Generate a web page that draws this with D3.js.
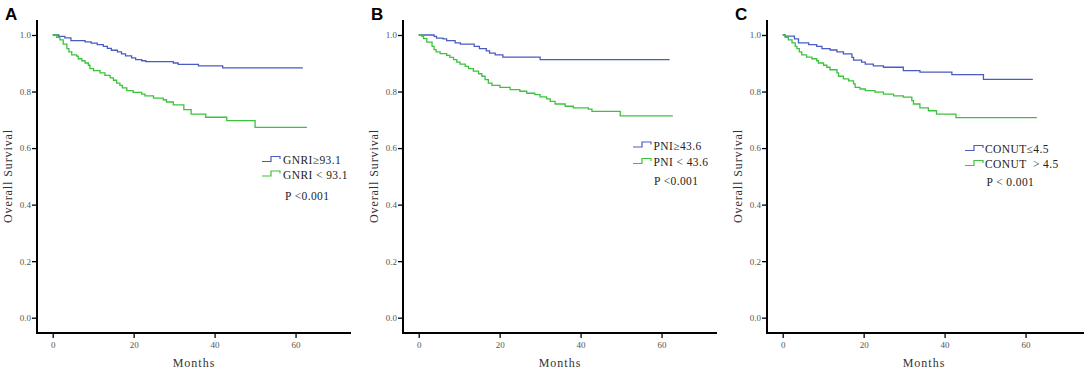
<!DOCTYPE html>
<html><head><meta charset="utf-8">
<script src="https://cdn.jsdelivr.net/npm/d3@7/dist/d3.min.js"></script>
<style>body{margin:0;background:#fff}svg{display:block}</style>
</head><body>
<svg id="chart" width="1084" height="370"></svg>
<script>
// ---- data: [months, survival] change points of each Kaplan–Meier step curve ----
const panelLetters = ["A", "B", "C"];
const yTicks = [0.0, 0.2, 0.4, 0.6, 0.8, 1.0];
const xTicks = [0, 20, 40, 60];
const xTitle = "Months";
const yTitle = "Overall Survival";

const gnriHigh = [[0,1],[1.5,0.995],[3,0.99],[4.5,0.98],[8,0.976],[9.5,0.971],[11,0.966],[12.5,0.96],[13.5,0.953],[14.5,0.946],[16,0.94],[17,0.933],[18,0.926],[19.5,0.919],[20.5,0.913],[22,0.909],[23,0.906],[29.8,0.901],[31,0.896],[36,0.891],[42,0.884],[61.8,0.884]];
const gnriLow = [[0,1],[1,0.992],[1.8,0.983],[2.6,0.968],[3.5,0.952],[4,0.94],[4.7,0.93],[5.9,0.925],[6.3,0.916],[7.2,0.909],[8,0.901],[8.8,0.893],[9.2,0.881],[10.1,0.874],[11.7,0.866],[12.9,0.857],[14.2,0.848],[15,0.84],[15.8,0.83],[16.6,0.822],[17.2,0.813],[18.3,0.803],[19.9,0.797],[22,0.791],[22.8,0.785],[24.9,0.777],[27.3,0.771],[28.1,0.763],[29.8,0.753],[32.4,0.736],[34.2,0.72],[37.8,0.709],[43,0.697],[50,0.673],[62.8,0.673]];

const pniHigh = [[0,1],[3.8,0.995],[4.4,0.989],[6,0.986],[6.9,0.98],[9,0.972],[10.3,0.968],[13.7,0.96],[15,0.952],[16.7,0.944],[17.5,0.936],[18.9,0.93],[20.8,0.922],[30,0.913],[62,0.913]];
const pniLow = [[0,1],[0.8,0.995],[1.2,0.987],[2,0.975],[3.3,0.96],[3.8,0.948],[4.3,0.94],[5.3,0.934],[6.9,0.928],[7.7,0.921],[8.6,0.913],[9.4,0.904],[10.2,0.897],[11.5,0.889],[12.3,0.881],[13.5,0.872],[14.8,0.863],[15.6,0.854],[16.4,0.842],[17.2,0.83],[18.1,0.822],[20.1,0.815],[22.6,0.807],[25,0.801],[26.7,0.794],[28.7,0.789],[30,0.781],[31.6,0.774],[32.5,0.765],[33.7,0.756],[36.2,0.748],[38.2,0.742],[41.9,0.738],[42.8,0.73],[49.8,0.714],[62.8,0.714]];

const conutLow = [[0,1],[0.6,0.996],[2.9,0.986],[3.9,0.972],[6.4,0.966],[8.4,0.96],[9.7,0.952],[11.7,0.947],[13.4,0.94],[15,0.933],[17.1,0.921],[17.5,0.911],[19.5,0.904],[20.4,0.897],[22.4,0.891],[24.9,0.886],[29.8,0.874],[33.9,0.869],[41.8,0.86],[49.6,0.843],[61.8,0.843]];
const conutHigh = [[0,1],[0.6,0.992],[1.4,0.983],[2.3,0.972],[3.1,0.96],[3.5,0.952],[4.1,0.94],[4.7,0.93],[5.9,0.922],[7.2,0.916],[8.4,0.909],[8.8,0.901],[10.1,0.893],[10.9,0.886],[11.7,0.877],[13.4,0.866],[13.8,0.854],[15,0.845],[16.3,0.838],[17.5,0.827],[17.9,0.815],[19.1,0.809],[20.4,0.803],[22.8,0.798],[24.9,0.791],[27.4,0.785],[29.8,0.78],[31.9,0.768],[32.3,0.756],[33.9,0.742],[36,0.732],[38,0.72],[42.8,0.708],[62.8,0.708]];

const legendLabels = [["GNRI\u226593.1", "GNRI < 93.1"], ["PNI\u226543.6", "PNI < 43.6"], ["CONUT\u22644.5", "CONUT  > 4.5"]];
const pLabels = ["P <0.001", "P <0.001", "P < 0.001"];

// ---- layout / style ----
const blue = "#4a5cbf", green = "#3cc23c";
const panels = [
  {off: 0,   series: [gnriHigh, gnriLow],  leg: {sx: 262, tx: 283, y1: 160, y2: 174.5, py: 200, px: 285}},
  {off: 366, series: [pniHigh, pniLow],    leg: {sx: 267, tx: 287.5, y1: 145.5, y2: 162, py: 185, px: 288}},
  {off: 730, series: [conutLow, conutHigh],leg: {sx: 235, tx: 255, y1: 149, y2: 164, py: 186, px: 256.5}}
];
const serif = "'Liberation Serif','Times New Roman',serif";
const svg = d3.select("#chart");

panels.forEach((p, i) => {
  const g = svg.append("g").attr("transform", `translate(${p.off},0)`);
  const x = d3.scaleLinear().domain([-3.88, 73.7]).range([37, 351]);
  const y = d3.scaleLinear().domain([0, 1]).range([317.7, 35]);
  const yTop = 20, xAxisY = 333;

  // panel letter
  g.append("text").attr("x", 5).attr("y", 20).text(panelLetters[i])
    .attr("font-family", "Arial, 'Liberation Sans', sans-serif").attr("font-weight", "bold").attr("font-size", 17);

  // y axis
  const ya = g.append("g").attr("transform", "translate(37,0)")
    .call(d3.axisLeft(y).tickValues(yTicks).tickFormat(d3.format(".1f")).tickSize(5).tickPadding(1));
  ya.select(".domain").remove();
  ya.selectAll(".tick line").attr("stroke", "#000").attr("stroke-width", 1.3);
  ya.selectAll(".tick text").attr("font-family", serif).attr("font-size", 9).attr("fill", "#555");
  g.append("line").attr("x1", 37).attr("x2", 37).attr("y1", yTop).attr("y2", xAxisY + 1).attr("stroke", "#000").attr("stroke-width", 2);

  // x axis
  const xa = g.append("g").attr("transform", `translate(0,${xAxisY})`)
    .call(d3.axisBottom(x).tickValues(xTicks).tickFormat(d3.format("d")).tickSize(5).tickPadding(4));
  xa.select(".domain").remove();
  xa.selectAll(".tick line").attr("stroke", "#000").attr("stroke-width", 1.3);
  xa.selectAll(".tick text").attr("font-family", serif).attr("font-size", 9).attr("fill", "#555");
  g.append("line").attr("x1", 36).attr("x2", i === 2 ? 354 : 351).attr("y1", xAxisY).attr("y2", xAxisY).attr("stroke", "#000").attr("stroke-width", 2);

  // titles
  g.append("text").attr("x", (37 + 351) / 2).attr("y", 367).attr("text-anchor", "middle")
    .attr("font-family", serif).attr("font-size", 12).attr("letter-spacing", 1).attr("fill", "#333").text(xTitle);
  g.append("text").attr("transform", `translate(12,176) rotate(-90)`).attr("text-anchor", "middle")
    .attr("font-family", serif).attr("font-size", 12).attr("letter-spacing", 0.9).attr("fill", "#333").text(yTitle);

  // curves
  const line = d3.line().x(d => x(d[0])).y(d => y(d[1])).curve(d3.curveStepAfter);
  [blue, green].forEach((c, k) => {
    g.append("path").datum(p.series[k]).attr("d", line).attr("fill", "none")
      .attr("stroke", c).attr("stroke-width", 1.3);
  });

  // legend
  const L = p.leg;
  [[L.y1, blue], [L.y2, green]].forEach(([yy, c], k) => {
    g.append("path").attr("d", `M${L.sx},${yy + 1.5}H${L.sx + 9}V${yy - 3.5}H${L.sx + 18}V${yy - 1}`)
      .attr("fill", "none").attr("stroke", c).attr("stroke-width", 1.2);
    g.append("text").attr("x", L.tx).attr("y", yy + 4).attr("font-family", serif).attr("font-size", 11.5)
      .attr("letter-spacing", 0.4).attr("fill", "#222").attr("xml:space", "preserve").style("white-space", "pre")
      .text(legendLabels[i][k]);
  });
  g.append("text").attr("x", L.px).attr("y", L.py).attr("font-family", serif).attr("font-size", 11.5)
    .attr("letter-spacing", 0.4).attr("fill", "#222").style("white-space", "pre").text(pLabels[i]);
});
</script>
</body></html>
